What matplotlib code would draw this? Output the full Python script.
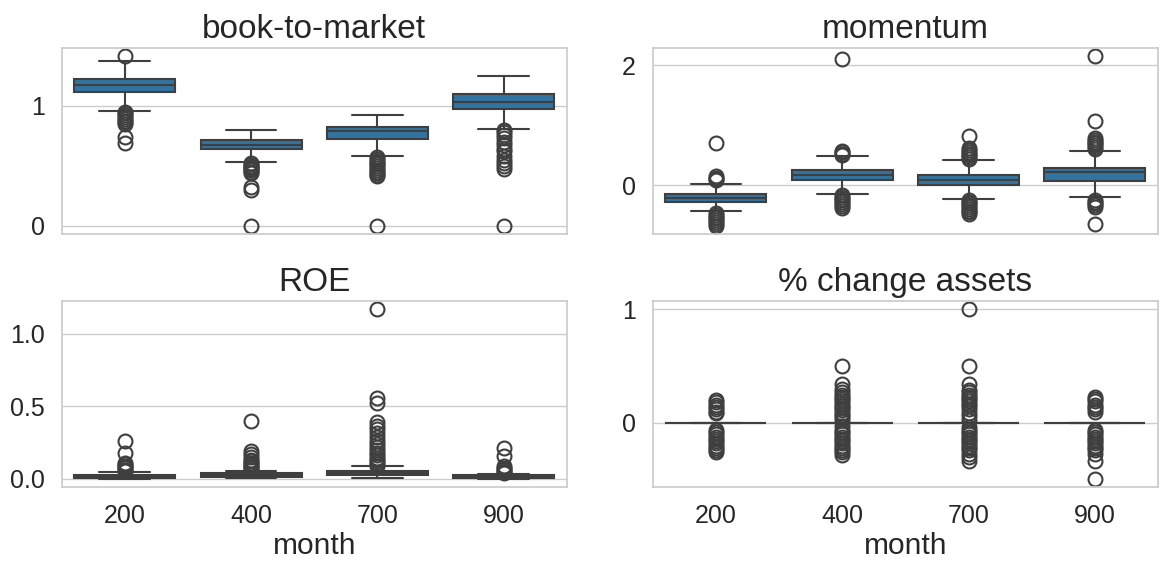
import matplotlib
matplotlib.use("Agg")
import matplotlib.pyplot as plt
import seaborn as sns

sns.set_theme(style="whitegrid")
plt.rcParams["font.family"] = ["Liberation Sans", "DejaVu Sans"]

months = ["200", "400", "700", "900"]
titles = ["book-to-market", "momentum", "ROE", "% change assets"]

# box summaries per month: median, lower/upper quartile, whisker ends
btm_med = [1.17, 0.675, 0.79, 1.03]
btm_q1 = [1.11, 0.639, 0.722, 0.972]
btm_q3 = [1.22, 0.717, 0.825, 1.097]
btm_lo = [0.958, 0.527, 0.583, 0.806]
btm_hi = [1.37, 0.797, 0.922, 1.25]
btm_out = [
    [1.41, 0.95, 0.935, 0.92, 0.905, 0.89, 0.875, 0.86, 0.85, 0.735, 0.685],
    [0.52, 0.51, 0.50, 0.49, 0.48, 0.47, 0.46, 0.45, 0.44, 0.32, 0.30, 0.0],
    [0.57, 0.555, 0.54, 0.525, 0.51, 0.495, 0.48, 0.465, 0.45, 0.435, 0.42, 0.41, 0.0],
    [0.80, 0.78, 0.755, 0.73, 0.70, 0.67, 0.64, 0.62, 0.58, 0.55, 0.52, 0.50, 0.47, 0.0],
]

mom_med = [-0.21, 0.179, 0.095, 0.217]
mom_q1 = [-0.278, 0.084, 0.0, 0.067]
mom_q3 = [-0.139, 0.262, 0.179, 0.29]
mom_lo = [-0.434, -0.139, -0.228, -0.194]
mom_hi = [0.023, 0.496, 0.429, 0.58]
mom_out = [
    [0.71, 0.15, 0.13, 0.11, 0.09, -0.46, -0.49, -0.52, -0.55, -0.58, -0.61, -0.64, -0.67],
    [2.10, 0.57, 0.55, 0.53, 0.51, -0.16, -0.19, -0.22, -0.25, -0.28, -0.31, -0.34, -0.37],
    [0.83, 0.62, 0.59, 0.56, 0.53, 0.50, 0.47, 0.44, -0.24, -0.27, -0.30, -0.33, -0.36,
     -0.39, -0.42, -0.45, -0.48],
    [2.15, 1.08, 0.79, 0.76, 0.73, 0.70, 0.67, 0.64, 0.61, -0.24, -0.27, -0.30, -0.33,
     -0.36, -0.65],
]

roe_med = [0.012, 0.025, 0.04, 0.01]
roe_q1 = [0.005, 0.012, 0.021, 0.002]
roe_q3 = [0.025, 0.039, 0.055, 0.021]
roe_lo = [0.0, 0.002, 0.002, 0.0]
roe_hi = [0.044, 0.055, 0.085, 0.03]
roe_out = [
    [0.26, 0.18, 0.11, 0.10, 0.09, 0.08, 0.07, 0.06, 0.05],
    [0.40, 0.19, 0.17, 0.15, 0.13, 0.12, 0.11, 0.10, 0.09, 0.08, 0.07, 0.06],
    [1.17, 0.555, 0.525, 0.39, 0.365, 0.34, 0.315, 0.29, 0.26, 0.24, 0.22, 0.20, 0.18,
     0.16, 0.145, 0.13, 0.115, 0.10, 0.09],
    [0.21, 0.155, 0.085, 0.075, 0.065, 0.055, 0.045, 0.04],
]

# asset growth boxes collapse onto zero
chg_med = [0.0, 0.0, 0.0, 0.0]
chg_q1 = [0.0, 0.0, 0.0, 0.0]
chg_q3 = [0.0, 0.0, 0.0, 0.0]
chg_lo = [0.0, 0.0, 0.0, 0.0]
chg_hi = [0.0, 0.0, 0.0, 0.0]
chg_out = [
    [0.20, 0.18, 0.16, 0.14, 0.12, 0.10, 0.085, -0.06, -0.08, -0.10, -0.12, -0.14,
     -0.16, -0.18, -0.20, -0.22, -0.24, -0.26],
    [0.50, 0.34, 0.30, 0.27, 0.25, 0.23, 0.21, 0.19, 0.17, 0.15, 0.13, 0.11, 0.09, 0.07,
     0.05, 0.03, -0.03, -0.06, -0.08, -0.10, -0.12, -0.14, -0.16, -0.18, -0.20, -0.22,
     -0.24, -0.26, -0.28],
    [1.0, 0.50, 0.34, 0.29, 0.27, 0.25, 0.23, 0.21, 0.19, 0.17, 0.15, 0.12, 0.09, 0.06,
     0.03, -0.04, -0.06, -0.08, -0.10, -0.12, -0.14, -0.16, -0.18, -0.20, -0.22, -0.24,
     -0.27, -0.30, -0.34],
    [0.23, 0.21, 0.19, 0.16, 0.14, 0.12, 0.10, -0.06, -0.08, -0.10, -0.12, -0.14, -0.16,
     -0.18, -0.20, -0.22, -0.24, -0.27, -0.34, -0.49],
]

panels = [
    (btm_med, btm_q1, btm_q3, btm_lo, btm_hi, btm_out),
    (mom_med, mom_q1, mom_q3, mom_lo, mom_hi, mom_out),
    (roe_med, roe_q1, roe_q3, roe_lo, roe_hi, roe_out),
    (chg_med, chg_q1, chg_q3, chg_lo, chg_hi, chg_out),
]
yticks = [[0, 1], [0, 2], [0.0, 0.5, 1.0], [0, 1]]
yticklabels = [["0", "1"], ["0", "2"], ["0.0", "0.5", "1.0"], ["0", "1"]]

box_color = "#3274a1"
line_color = "#3f3f3f"

fig, axes = plt.subplots(2, 2, figsize=(11.62, 5.62), dpi=100, sharex="col")
fig.subplots_adjust(left=0.053, right=0.9966, top=0.9146, bottom=0.1335,
                    wspace=0.17, hspace=0.36)

for k, ax in enumerate(axes.flat):
    med, q1, q3, lo, hi, out = panels[k]
    stats = []
    for i in range(len(months)):
        stats.append({"med": med[i], "q1": q1[i], "q3": q3[i],
                      "whislo": lo[i], "whishi": hi[i], "fliers": out[i]})
    ax.bxp(stats, positions=range(len(months)), widths=0.8, patch_artist=True,
           boxprops=dict(facecolor=box_color, edgecolor=line_color, linewidth=1.5),
           medianprops=dict(color=line_color, linewidth=1.5),
           whiskerprops=dict(color=line_color, linewidth=1.5),
           capprops=dict(color=line_color, linewidth=1.5),
           flierprops=dict(marker="o", markerfacecolor="none",
                           markeredgecolor=line_color, markersize=10,
                           markeredgewidth=1.5))
    ax.set_xlim(-0.5, len(months) - 0.5)
    ax.set_xticks(range(len(months)))
    ax.set_xticklabels(months)
    ax.grid(False, axis="x")
    ax.set_yticks(yticks[k])
    ax.set_yticklabels(yticklabels[k])
    ax.tick_params(labelsize=18, colors="#262626", pad=6)
    ax.set_title(titles[k], fontsize=24, color="#262626", pad=7)
    if k >= 2:
        ax.set_xlabel("month", fontsize=21.5, color="#262626", labelpad=3)
    for sp in ax.spines.values():
        sp.set_color("#cccccc")

fig.savefig("out.png", dpi=100)
